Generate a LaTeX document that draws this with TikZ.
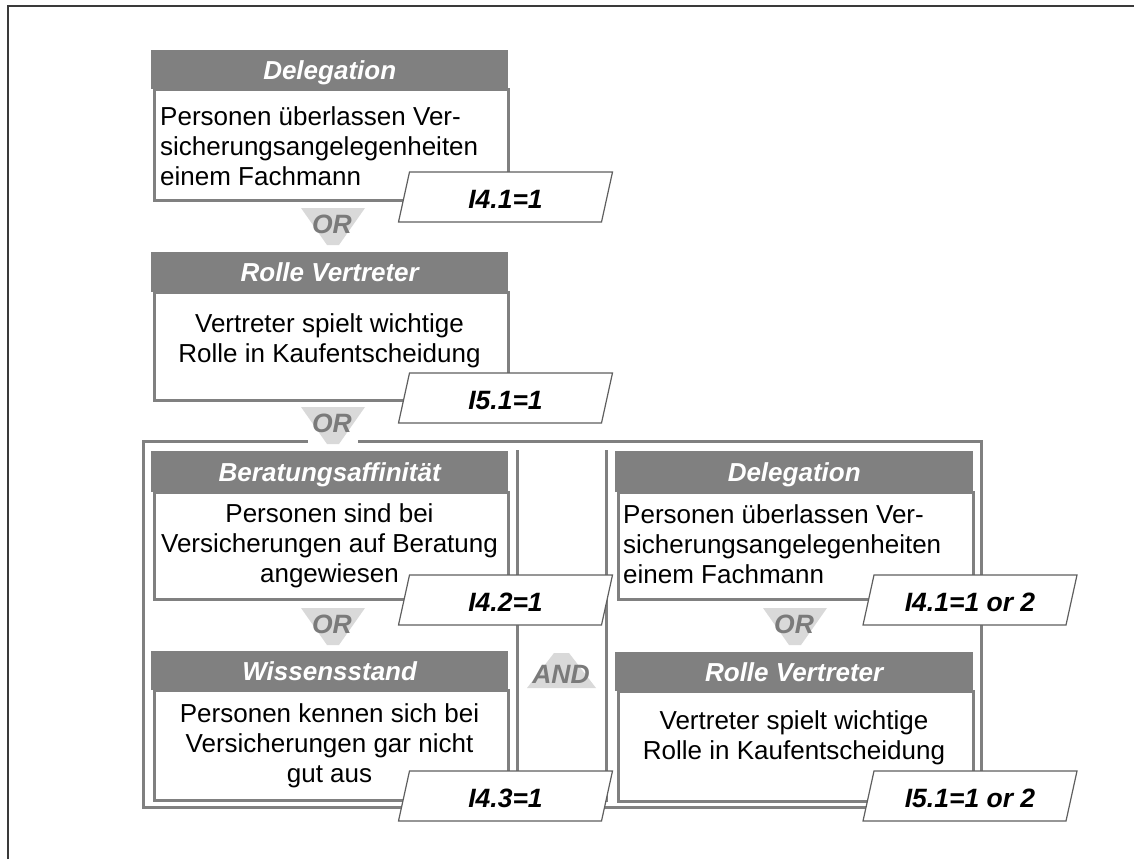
\documentclass[tikz,border=0pt]{standalone}
\usepackage{fontspec}
\setmainfont{Liberation Sans}
\definecolor{boxgray}{HTML}{808080}
\definecolor{chevfill}{HTML}{D9D9D9}
\definecolor{optextcol}{HTML}{7A7A7A}
\definecolor{labeledge}{HTML}{5F5F5F}
\definecolor{pageedge}{HTML}{3A3A3A}
\tikzset{
  headbox/.style={fill=boxgray, text=white, inner sep=0pt, anchor=north west,
    font=\fontsize{26}{30}\selectfont\bfseries\itshape, text height=18.6pt, text depth=0pt},
  bodybox/.style={draw=boxgray, line width=3pt, fill=white, inner sep=0pt, anchor=north west},
  bodytext/.style={inner sep=0pt, font=\fontsize{26}{30}\selectfont},
  labelshape/.style={fill=white, draw=labeledge, line width=1.2pt, line join=miter},
  labeltext/.style={inner sep=0pt, font=\fontsize{26.5}{30}\selectfont\bfseries\itshape,
    text height=19pt, text depth=0pt},
  chevron/.style={fill=chevfill},
  optext/.style={inner sep=0pt, text=optextcol, font=\fontsize{26.5}{30}\selectfont\bfseries\itshape,
    text height=19pt, text depth=0pt},
  frameline/.style={draw=boxgray, line width=3pt},
}
% criterion box: name, left, right, top, header bottom, body bottom, title
\newcommand\infobox[7]{%
  \node[bodybox, minimum width={#3-#2-3}, minimum height={#6-#5}] (#1b) at (#2+1.5,#5-1.5) {};
  \node[headbox, minimum width={#3-#2}, minimum height={#5-#4}] (#1h) at (#2,#4) {#7};
}
% condition tag: name, centre x, centre y, text
\newcommand\condtag[4]{%
  \filldraw[labelshape] (#2-107,#3+25) -- (#2-96,#3-25) -- (#2+107,#3-25) -- (#2+96,#3+25) -- cycle;
  \node[labeltext] (#1) at (#2,#3+1.5) {#4};
}
% OR connector: name, centre x, top y
\newcommand\orsign[3]{%
  \fill[chevron] (#2-32,#3) -- (#2+32,#3) -- (#2+6,#3+37) -- (#2-6,#3+37) -- cycle;
  \node[optext] (#1) at (#2-1,#3+16) {OR};
}
\begin{document}
\begin{tikzpicture}[x=1pt,y=-1pt]
\useasboundingbox (0,0) rectangle (1134,859);
% page edge
\coordinate (pgBL) at (8,859);
\coordinate (pgTL) at (8,6);
\coordinate (pgTR) at (1134,6);
\draw[pageedge, line width=1.5pt] (pgBL) -- (pgTL) -- (pgTR);

% upper chain
\infobox{deleg}{151}{508}{50}{89}{200}{Delegation}
\node[bodytext, align=left, anchor=north west] (delegT) at (160,104)
  {\strut Personen überlassen Ver-\\sicherungsangelegenheiten\\einem Fachmann};
\condtag{delegC}{505.5}{197}{I4.1=1}
\orsign{or1}{333}{208}

\infobox{rolle}{151}{508}{252}{292}{400}{Rolle Vertreter}
\node[bodytext, align=center, anchor=north] (rolleT) at (329.5,311)
  {\strut Vertreter spielt wichtige\\Rolle in Kaufentscheidung};

% combined group frame
\coordinate (fTL) at (143,441);
\coordinate (fTR) at (981,441);
\coordinate (fBL) at (143,807);
\coordinate (fBR) at (981,807);
\coordinate (gapL) at (306,441);
\coordinate (gapR) at (359,441);
\draw[frameline, line cap=rect] (gapL) -- (fTL) -- (fBL) -- (fBR) -- (fTR) -- (gapR);
\coordinate (m1t) at (517.5,450);
\coordinate (m1b) at (517.5,800);
\coordinate (m2t) at (606,450);
\coordinate (m2b) at (606,800);
\draw[frameline] (m1t) -- (m1b) -- (m2b) -- (m2t);

\condtag{rolleC}{505.5}{398}{I5.1=1}
\orsign{or2}{333}{407}

% left column
\infobox{berat}{151}{508}{451}{492}{599}{Beratungsaffinität}
\node[bodytext, align=center, anchor=north] (beratT) at (329.5,501)
  {\strut Personen sind bei\\Versicherungen auf Beratung\\angewiesen};
\orsign{or3}{333}{608}
\infobox{wiss}{151}{508}{651}{690}{800}{Wissensstand}
\node[bodytext, align=center, anchor=north] (wissT) at (329.5,701)
  {\strut Personen kennen sich bei\\Versicherungen gar nicht\\gut aus};
\condtag{beratC}{505.5}{600}{I4.2=1}
\condtag{wissC}{505.5}{796}{I4.3=1}

% AND connector
\fill[chevron] (527,688) -- (596,688) -- (569,653) -- (554,653) -- cycle;
\node[optext] (andop) at (561,673.5) {AND};

% right column
\infobox{delegr}{615}{973}{451}{492}{599}{Delegation}
\node[bodytext, align=left, anchor=north west] (delegrT) at (623,502)
  {\strut Personen überlassen Ver-\\sicherungsangelegenheiten\\einem Fachmann};
\orsign{or4}{795}{608}
\infobox{roller}{615}{973}{652}{691}{801}{Rolle Vertreter}
\node[bodytext, align=center, anchor=north] (rollerT) at (794,708)
  {\strut Vertreter spielt wichtige\\Rolle in Kaufentscheidung};
\condtag{delegrC}{970}{600}{I4.1=1 or 2}
\condtag{rollerC}{970}{796}{I5.1=1 or 2}
\end{tikzpicture}
\end{document}
